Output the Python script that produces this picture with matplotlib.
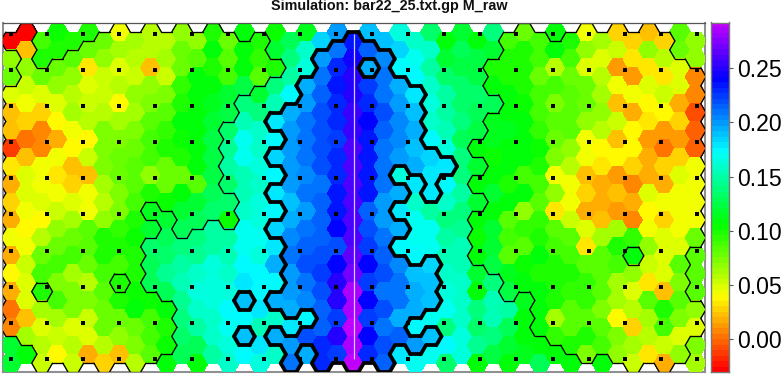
import numpy as np
import matplotlib
matplotlib.use("Agg")
import matplotlib.pyplot as plt
from matplotlib.collections import PolyCollection, LineCollection
from matplotlib.colors import ListedColormap, hsv_to_rgb

TITLE = "Simulation: bar22_25.txt.gp M_raw"
VMIN, VMAX = -0.030, 0.292
CBAR_TICKS = [0.00, 0.05, 0.10, 0.15, 0.20, 0.25]

# M_raw per hexagon column (values in hundredths), top row first
c00 = [-3,7,8,5,2.5,2.5,-1,3.5,2,3,2,4.5,1.8,3.8,2,0.4,0.8,12,12]
c01 = [-3,2.5,7,5.5,4.5,3,0.3,2.5,5,5,4.5,3.8,4.3,5.5,5,5,2.5,6.3,10.6]
c02 = [9,9.7,8,5,3,1,0.6,4.5,4.5,5,4,6,8,9,10,6.5,5,6,5.5]
c03 = [10.5,10,8,7,5,4,1.6,4.5,3.5,4.5,5.5,7,8,9,7.5,9,6.5,5.5,3.8]
c04 = [10,8.5,7,6,6.5,4.5,3.8,2.5,2.8,5,6.5,8,9,6.5,7.5,7.5,5,6,5.5]
c05 = [10,8,3.2,5,5.5,6,3.8,5.5,2.5,4.5,4.5,8.5,8.5,8,6,7.5,5.5,5,2]
c06 = [8,7,5.5,5.5,6,7.5,7.5,7.5,6.5,6,7,10,10,9,8.5,8,8,6,3]
c07 = [4.3,6.5,4.8,6,3.8,6.5,7.3,8,8,7.3,7.5,9.5,10,9,10,10,8,7,2.2]
c08 = [6.5,6,5.5,7,6.5,7.3,8,8.5,8.5,9,10,10.3,10,10,10.3,10.6,8,7.3,6]
c09 = [6,6,2.1,7,7.5,8.3,9,9,7,10,11.5,12,13.5,13,13,10.5,9,9,8.5]
c10 = [6,6.3,5.5,7.5,8.5,9.5,10,8,8,10.5,12,13,13.5,14.5,13,11,10,10.5,11]
c11 = [7,8,8,9.5,10,10.6,10.5,9.7,8,11,12,13,14,15,15.5,14.5,14,13.5,13]
c12 = [7,8.5,10.6,10.6,11,11,10.6,10.8,8.5,12,13,14,14.5,15.8,16.3,16,15,13,11]
c13 = [10,10.6,10,11,11.5,12,12.5,12.5,12.5,13,13.5,15,15,16.3,16.5,16.5,16,16,15]
c14 = [8,8.5,9,12,12.5,13.5,14.5,15,13.5,13.5,10.5,15,15.5,16,16.5,17.3,17,16.5,16]
c15 = [10.8,10.8,10.6,12.5,14,15.5,16.8,16.8,15.5,15.5,16,17,17,17.3,18,18.8,17.3,18.8,17.6]
c16 = [10,9.5,8.5,12,14,16,16,16.5,16,16.5,16.5,17,16.5,17.5,17.5,17.8,15.5,18,16.5]
c17 = [10.5,12,10,14,15.5,17.8,17.5,18.5,17.3,18,17.5,18.5,18,19.5,17.3,19.5,16,19.5,16]
c18 = [13,14,15,17.3,19.5,20,20,20,20,19,19.5,20.5,20.7,20,20,19.5,18,20,21]
c19 = [11.5,16,16.5,19.5,20,21,21,21,20.5,20.7,20,21,21.3,22,21,20.5,17.5,22,19.5]
c20 = [18.5,20,21,21.5,22,22,22,22,21,21.5,21.5,21.5,22,22.5,22,21.5,21.5,22.8,22.8]
c21 = [20,21,23,23.5,23,23,22.5,23,23,23.5,23.5,24,22,24,25,25,22.5,25,22.5]
c22 = [23.5,24.5,25,25,25.5,25.5,26,26,26,26,26,26,26.3,27,28.5,28.5,28.8,28.5,29]
c23 = [19,21.5,19.5,22.5,23,24,23.3,23.5,23.5,23.5,21.5,22,22.5,23.8,22.5,24,22.5,23.8,23]
c24 = [19,20.5,21,21,22,21.5,21,21,21,20,20,20.7,21.5,22,21,22,21,22,21.5]
c25 = [16.5,18.5,17.5,19.5,20,20.5,20.5,20,16.5,19.5,18,19.5,17.5,20.3,20.7,20.7,19.5,21.5,18]
c26 = [16,17,17.5,18,18.8,19.5,19,19.5,17.8,16,17,17,17.3,19,19.5,19.5,17.5,20,16.8]
c27 = [13.5,16,15,16,16.5,16,17.3,18.5,18,18,15,16.8,17,18.5,19,19,17,19,17]
c28 = [10.6,12,13.5,15,15,15.5,16.5,17.8,17.5,16,14,15,15.5,16,16.5,17,14,17.5,13.5]
c29 = [12,13,12.5,13.5,13.5,14,13,14,14,15,14,14.5,15.5,15.5,16,16,16,16.5,16.5]
c30 = [11,12.5,12.5,13.5,13,12.5,10.8,12,11,12,10.6,10.5,11,12,11,14,13.5,14.5,11]
c31 = [14,12,10,11,13,11.5,11.5,10.3,10.6,12,10.8,12,12,12.5,14,15.5,15.5,14,12.5]
c32 = [9,10,10,11,11,11.5,10.8,10.6,10,10.6,8.3,9,8.3,11.5,12.5,15,13,12,11]
c33 = [8,10,10,10,10.3,10.6,11,10.6,9,10.6,7,9.5,8.3,10.3,10.8,11.5,11,11,11.5]
c34 = [9,9,8,9,9,9.5,10.3,10,9,8.5,9.5,10,10.6,10,10.8,10.8,10.8,11,13]
c35 = [10.6,10.6,6,9,7.5,8.5,8,7.5,4.5,7,3.5,8.3,9,10,10,10,6.5,9.3,10.8]
c36 = [10,9,8,8.5,8.5,8.3,7,6,4.3,4.3,5.5,8.5,9,10,9.5,8.5,8.5,10,10.8]
c37 = [4.5,7,5,8,8,7,4.3,4.3,2.2,3,1.6,5,3.5,8.5,9.5,9.5,8.3,10,7.3]
c38 = [6.5,5,6,6.5,7,6,3.8,3.3,2,2,2.5,6.5,8.3,8.3,8.5,7.3,8.3,9,10.6]
c39 = [3,5.5,1.2,4.5,2.5,5.5,2.5,3.8,1.3,2.2,1.4,6.5,10,9,6.5,6.5,3.8,7.3,7]
c40 = [3,3.3,1.4,4.3,1.8,3.8,3.8,2.7,0.6,1.6,1,9.5,10.8,7,5,6,3,6.5,5.5]
c41 = [2.3,7,3.3,5,3.8,3.3,1.4,2,2,4.8,4,4.5,7,5.5,3.3,8.5,6.5,6,3.5]
c42 = [2.8,6,3.3,5.5,4,1.5,0.5,2.7,2,4.3,2.8,4.7,4.8,5,2.2,10,9,5.5,1.8]
c43 = [8.5,8,5,5,1.6,3,1.2,3,5,4.5,4.3,4.5,5,8.5,7.5,8.5,7.5,5,7]
c44 = [7,7,1,1,-0.8,0,-0.3,4.3,4.3,4.5,4.3,8,8.5,8.5,8.3,7,5,7.5,6.5]

# region of each hexagon per column: 0 low, 1 middle, 2 high
r00 = "0110000000000000011"
r01 = "0000000000000000001"
r02 = "1100000000000010000"
r03 = "1100000000000000000"
r04 = "1000000000000000000"
r05 = "1000000000000000000"
r06 = "0000000000000000000"
r07 = "0000000000000010000"
r08 = "0000000000000000000"
r09 = "0000000000101110000"
r10 = "0000000000111110001"
r11 = "0000000000001111111"
r12 = "0000000000011111111"
r13 = "0000000000011111111"
r14 = "0000011110011111111"
r15 = "1000111111111112121"
r16 = "0001111111111111111"
r17 = "1101121212121112121"
r18 = "1111222222222222122"
r19 = "1112222222222222121"
r20 = "1222222222222222222"
r21 = "1222222222222222222"
r22 = "2222222222222222222"
r23 = "1212222222222222222"
r24 = "1222222222222222222"
r25 = "1112222212121222221"
r26 = "1112222211111222121"
r27 = "1111111222111222121"
r28 = "1111111211111111111"
r29 = "1111111111111111111"
r30 = "1111110101000111111"
r31 = "1100100000000011111"
r32 = "0000000000000001111"
r33 = "0000000000000001111"
r34 = "0000000000000000011"
r35 = "1000000000000000001"
r36 = "0000000000000000001"
r37 = "0000000000000000000"
r38 = "0000000000000000001"
r39 = "0000000000000000000"
r40 = "0000000000001000000"
r41 = "0000000000000000000"
r42 = "0000000000000000000"
r43 = "1100000000000000000"
r44 = "1100000000001110011"

columns = [c00,c01,c02,c03,c04,c05,c06,c07,c08,c09,c10,c11,c12,c13,c14,c15,c16,c17,c18,c19,c20,c21,c22,
           c23,c24,c25,c26,c27,c28,c29,c30,c31,c32,c33,c34,c35,c36,c37,c38,c39,c40,c41,c42,c43,c44]
regions = [r00,r01,r02,r03,r04,r05,r06,r07,r08,r09,r10,r11,r12,r13,r14,r15,r16,r17,r18,r19,r20,r21,r22,
           r23,r24,r25,r26,r27,r28,r29,r30,r31,r32,r33,r34,r35,r36,r37,r38,r39,r40,r41,r42,r43,r44]
values = np.array(columns) / 100.0
cls = np.array([[int(ch) for ch in s] for s in regions])
ncol, nrow = values.shape

W, H = 783, 374
PX_X0, PX_DX = 11.0, 15.56
PX_Y0, PX_DY = 41.0, 17.9
AX_L, AX_R, AX_T, AX_B = 2.5, 705.0, 22.5, 372.0
CB_L, CB_R = 711.0, 729.0
DOT_X = 36.1 / PX_DX
DOT_Y = 36.15 / PX_DY

# rainbow colormap: hue from red to purple in discrete steps
hues = np.linspace(0, 285 / 360, 64)
cmap = ListedColormap(hsv_to_rgb(np.column_stack([hues, np.ones(64), np.ones(64)])))
norm = plt.Normalize(VMIN, VMAX)

plt.rcParams['font.family'] = ['Liberation Sans', 'DejaVu Sans']
fig = plt.figure(figsize=(W / 100, H / 100), dpi=100, facecolor='white')
ax = fig.add_axes([AX_L / W, 1 - AX_B / H, (AX_R - AX_L) / W, (AX_B - AX_T) / H])
ax.set_xlim((AX_L - PX_X0) / PX_DX, (AX_R - PX_X0) / PX_DX)
ax.set_ylim((AX_B - PX_Y0) / PX_DY, (AX_T - PX_Y0) / PX_DY)
ax.set_xticks([]); ax.set_yticks([])

def center(k, j):
    return k, j - 0.5 * (k % 2)

# unit hexagon corners, flat top; going clockwise on screen from upper-left
A, B = 2 / 3, 1 / 3
corners = [(-B, -0.5), (B, -0.5), (A, 0), (B, 0.5), (-B, 0.5), (-A, 0)]

def neighbours(k, j):
    o = k % 2
    return [(k, j - 1), (k + 1, j - o), (k + 1, j + 1 - o), (k, j + 1), (k - 1, j + 1 - o), (k - 1, j - o)]

polys, cols, thin, thick = [], [], [], []
for k in range(ncol):
    for j in range(nrow):
        cx, cy = center(k, j)
        pts = [(cx + a, cy + b) for a, b in corners]
        polys.append(pts)
        cols.append(cmap(norm(values[k, j])))
        c = cls[k, j]
        for e, (nk, nj) in enumerate(neighbours(k, j)):
            inside = 0 <= nk < ncol and 0 <= nj < nrow
            other = cls[nk, nj] if inside else 1
            if c == other or (inside and c < other):
                continue
            seg = [pts[e], pts[(e + 1) % 6]]
            if max(c, other) == 2:
                thick.append(seg)
            else:
                thin.append(seg)

ax.add_collection(PolyCollection(polys, facecolors=cols, edgecolors='none', antialiaseds=False, zorder=1))
ax.add_collection(LineCollection(thin, colors='black', linewidths=0.95, capstyle='round', zorder=2))
ax.add_collection(LineCollection(thick, colors='black', linewidths=2.7, capstyle='round', zorder=3))

dx = np.arange(20) * DOT_X
dy = (33.7 - PX_Y0) / PX_DY + np.arange(10) * DOT_Y
gx, gy = np.meshgrid(dx, dy)
ax.scatter(gx.ravel(), gy.ravel(), marker='s', s=9, c='black', linewidths=0, zorder=4)
ax.plot([9.5 * DOT_X] * 2, [dy[0], dy[-1]], color='#ccccff', lw=0.9, zorder=5, solid_capstyle='butt')

for name, sp in ax.spines.items():
    sp.set_zorder(0.5)
    sp.set_color('#909090')
    sp.set_linewidth(1.5)
ax.spines['top'].set_color('#555555')
ax.spines['top'].set_linewidth(0.9)
ax.spines['top'].set_zorder(6)

fig.text(389 / W, 1 - 6 / H, TITLE, ha='center', va='center', fontsize=10.4, fontweight='bold', color='#111111')

cax = fig.add_axes([CB_L / W, 1 - AX_B / H, (CB_R - CB_L) / W, (AX_B - AX_T) / H])
cax.imshow(np.linspace(VMAX, VMIN, 256)[:, None], aspect='auto', cmap=cmap, norm=norm,
           extent=[0, 1, VMIN, VMAX], interpolation='nearest')
cax.set_xticks([])
cax.yaxis.tick_right()
cax.set_yticks(CBAR_TICKS)
cax.set_yticklabels([f"{t:.2f}" for t in CBAR_TICKS], fontsize=16.6)
cax.tick_params(axis='y', length=3, width=0.8, color='#555555', pad=2.5, labelcolor='black')
for sp in cax.spines.values():
    sp.set_color('#777777')
    sp.set_linewidth(1)

fig.savefig('out.png', dpi=100)
